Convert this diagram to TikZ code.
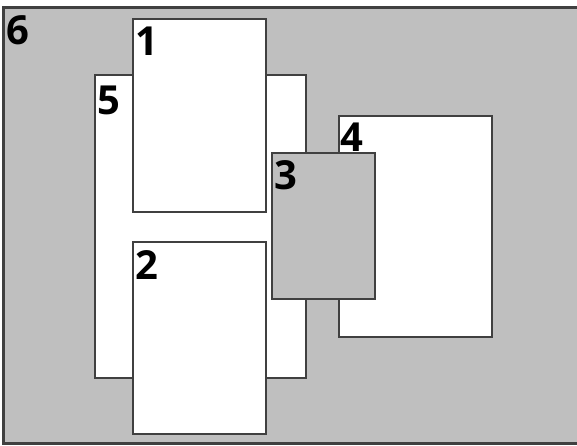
\documentclass[tikz,border=0pt]{standalone}
\usepackage{fontspec}
\setmainfont{Open Sans}
\begin{document}
\begin{tikzpicture}[x=1pt,y=-1pt,
  region/.style={draw=black!75, line width=2pt, inner sep=0pt, anchor=north west, outer sep=0pt},
  whitebox/.style={region, fill=white},
  graybox/.style={region, fill=gray!50},
  lbl/.style={anchor=north west, inner sep=0pt, font=\fontsize{40}{40}\selectfont\bfseries, text=black}]
\useasboundingbox (0,0) rectangle (577,446);
\fill[white] (0,0) rectangle (577,446);
\node[graybox, line width=3pt, minimum width=578pt, minimum height=435pt] (r6) at (3,8) {};
\node[whitebox, minimum width=211pt, minimum height=303pt] (r5) at (95,75) {};
\node[whitebox, minimum width=133pt, minimum height=193pt] (r1) at (133,19) {};
\node[whitebox, minimum width=133pt, minimum height=192pt] (r2) at (133,242) {};
\node[whitebox, minimum width=153pt, minimum height=221pt] (r4) at (339,116) {};
\node[graybox, minimum width=103pt, minimum height=146pt] (r3) at (272,153) {};
\node[lbl] (l6) at ([xshift=3pt,yshift=-7pt]r6.north west) {6};
\node[lbl] (l5) at ([xshift=2pt,yshift=-11pt]r5.north west) {5};
\node[lbl] (l1) at ([xshift=2pt,yshift=-8pt]r1.north west) {1};
\node[lbl] (l2) at ([xshift=2pt,yshift=-8pt]r2.north west) {2};
\node[lbl] (l4) at ([xshift=1pt,yshift=-7pt]r4.north west) {4};
\node[lbl] (l3) at ([xshift=2pt,yshift=-7pt]r3.north west) {3};
\end{tikzpicture}
\end{document}
